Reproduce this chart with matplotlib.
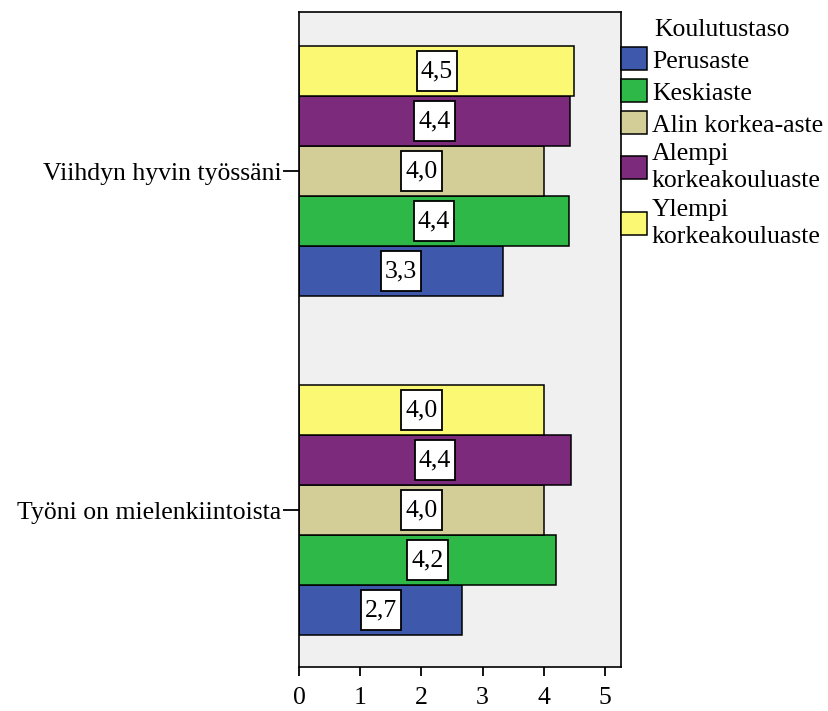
import matplotlib
matplotlib.use("Agg")
import matplotlib.pyplot as plt
from matplotlib.patches import Patch
from matplotlib.path import Path
import numpy as np

plt.rcParams['font.family'] = ['Liberation Serif', 'DejaVu Serif']

# Mean scores per statement (bottom to top), one list per education level
statements = ["Työni on mielenkiintoista", "Viihdyn hyvin työssäni"]
levels = ["Perusaste", "Keskiaste", "Alin korkea-aste",
          "Alempi\nkorkeakouluaste", "Ylempi\nkorkeakouluaste"]
legend_title = "Koulutustaso"
perusaste = [2.67, 3.34]
keskiaste = [4.20, 4.41]
alin_korkea = [4.00, 4.00]
alempi_korkea = [4.44, 4.42]
ylempi_korkea = [4.00, 4.50]
x_ticks = [0, 1, 2, 3, 4, 5]

series = [perusaste, keskiaste, alin_korkea, alempi_korkea, ylempi_korkea]
colors = ["#3E58AC", "#2EB848", "#D3CE97", "#7B2A7C", "#FBF873"]
FS = 18.5


def label_box(x0, y0, width, height, mutation_size):
    """Rectangular value-label box with more vertical than horizontal padding."""
    px = 0.16 * mutation_size
    py = 0.36 * mutation_size
    x0, y0 = x0 - px, y0 - py
    x1, y1 = x0 + width + 2 * px, y0 + height + 2 * py
    verts = [(x0, y0), (x1, y0), (x1, y1), (x0, y1), (x0, y0)]
    return Path(verts, closed=True)


fig = plt.figure(figsize=(8.29, 7.11), dpi=100)
ax = fig.add_axes([0.3607, 0.0619, 0.3884, 0.9212])
ax.set_facecolor("#F0F0F0")

ypos = np.arange(len(statements))
h = 0.1475
for i, (vals, col) in enumerate(zip(series, colors)):
    yy = ypos + (i - 2) * h
    ax.barh(yy, vals, height=h, color=col, edgecolor="black", linewidth=1.1, zorder=2)
    for y, v in zip(yy, vals):
        ax.text(v / 2, y, f"{v:.1f}".replace(".", ","), ha="center", va="center",
                fontsize=FS, zorder=3,
                bbox=dict(boxstyle=label_box, fc="white", ec="black", lw=1.3))

ax.set_xlim(0, 5.26)
ax.set_ylim(-0.4631, 1.4690)
ax.set_xticks(x_ticks)
ax.set_xticklabels([str(t) for t in x_ticks], fontsize=FS)
ax.set_yticks(ypos)
ax.set_yticklabels(statements, fontsize=FS)
ax.tick_params(axis="y", length=11.5, width=1.3, pad=1)
ax.tick_params(axis="x", length=6.5, width=1.3, pad=8)
for s in ax.spines.values():
    s.set_linewidth(1.2)
    s.set_color("black")

handles = [Patch(facecolor=c, edgecolor="black", linewidth=1.1) for c in colors]
leg = ax.legend(handles, levels, title=legend_title, loc="upper left",
                bbox_to_anchor=(1.0, 0.99), borderaxespad=0, borderpad=0,
                frameon=False, fontsize=FS, title_fontsize=FS,
                handlelength=1.0, handleheight=1.0, handletextpad=0.2,
                labelspacing=0.26)
for t in leg.get_texts():
    t.set_linespacing(1.3)

fig.savefig("out.png", dpi=100)
